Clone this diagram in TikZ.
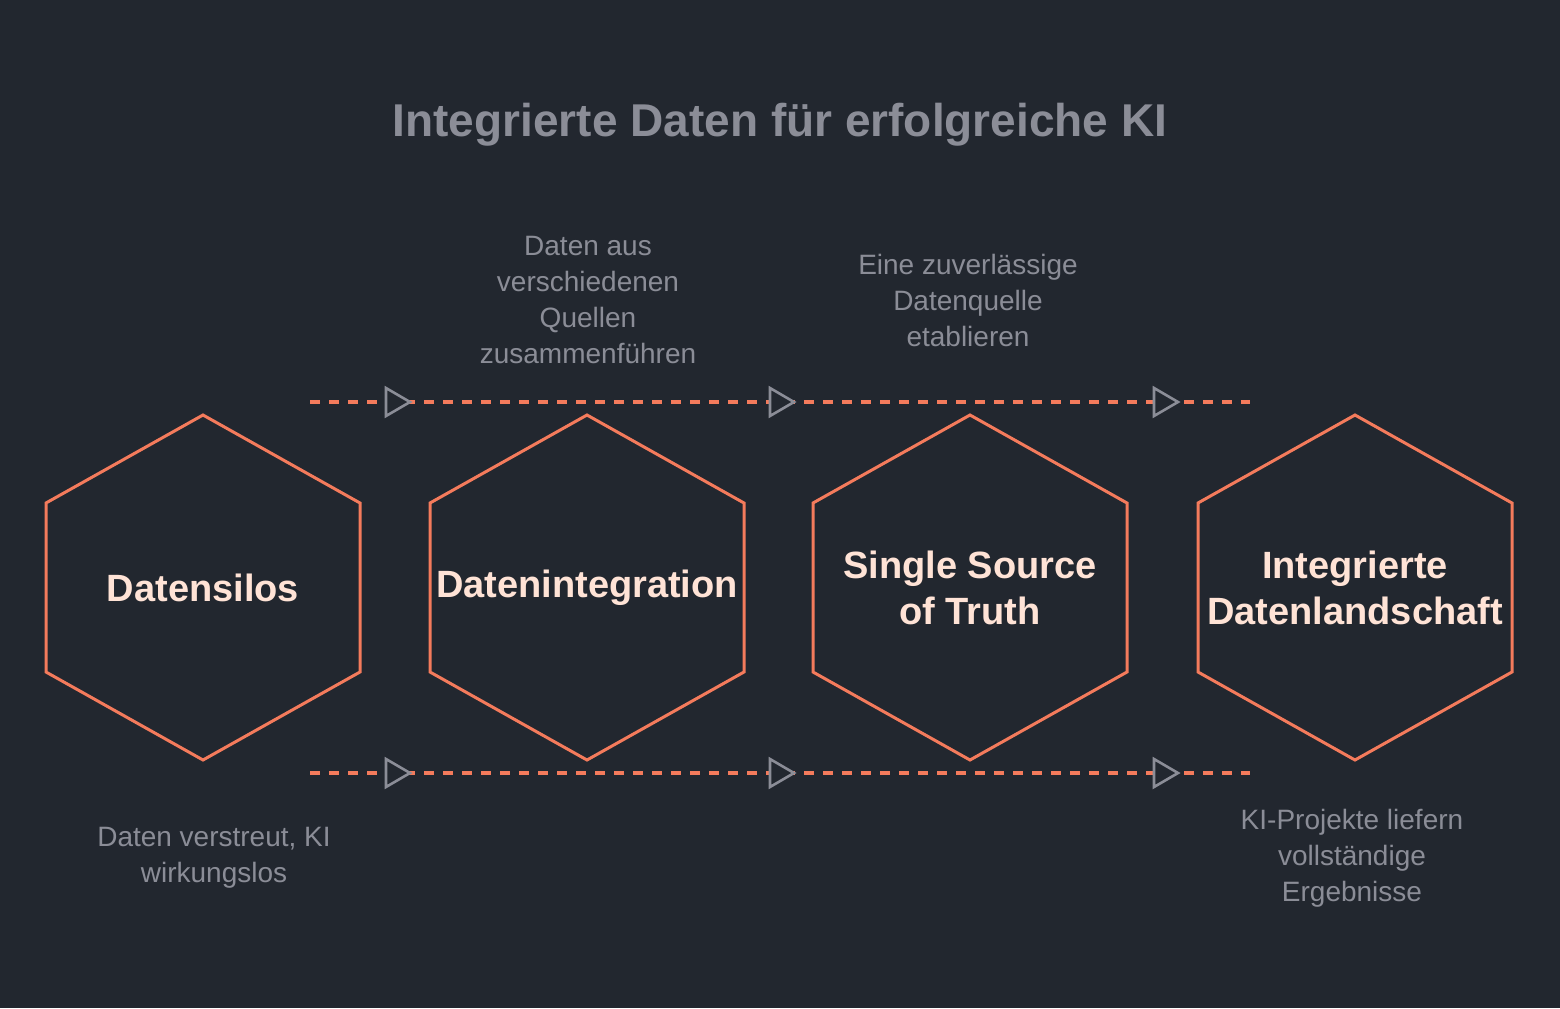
\documentclass[tikz,border=0pt]{standalone}
\usepackage{fontspec}
\setmainfont{Liberation Sans}
\definecolor{bg}{HTML}{22272F}
\definecolor{org}{HTML}{F47B5C}
\definecolor{gr}{HTML}{8B8D97}
\definecolor{lbl}{HTML}{FFE3D6}
\begin{document}
\begin{tikzpicture}[x=0.5pt,y=-0.5pt,
  hexa/.style={draw=org,line width=1.5pt,line join=miter},
  hl/.style={text=lbl,font=\fontsize{19}{23}\selectfont\bfseries,align=center},
  desc/.style={text=gr,font=\fontsize{14}{18}\selectfont,align=center},
  dl/.style={draw=org,line width=1.6pt,dash pattern=on 5pt off 4.5pt},
  tri/.style={draw=gr,line width=1.3pt,line join=miter}]
\fill[bg] (0,0) rectangle (1560,1008);
\useasboundingbox (0,0) rectangle (1560,1008);
\node[text=gr,font=\fontsize{23}{27}\selectfont\bfseries] (title) at (780,125) {Integrierte Daten für erfolgreiche KI};
\foreach \cx/\n in {203/h1,587/h2,970/h3,1355/h4}{
  \draw[hexa] (\cx,415) -- (\cx+157,503) -- (\cx+157,672) -- (\cx,760) -- (\cx-157,672) -- (\cx-157,503) -- cycle;
  \coordinate (\n) at (\cx,588);
}
\node[hl] at (h1) {Datensilos};
\node[hl] at (h2) {Datenintegration};
\node[hl] at (h3) {Single Source\\of Truth};
\node[hl] at (h4) {Integrierte\\Datenlandschaft};
\coordinate (ta) at (310,402); \coordinate (tb) at (1250,402);
\coordinate (ba) at (310,773); \coordinate (bb) at (1250,773);
\draw[dl] (ta) -- (tb);
\draw[dl] (ba) -- (bb);
\foreach \x in {386,770,1154}{
  \foreach \y in {402,773}{
    \draw[tri,fill=bg] (\x,\y-14) -- (\x+24,\y) -- (\x,\y+14) -- cycle;
  }
}
\node[desc] (d2) at (588,300) {Daten aus\\verschiedenen\\Quellen\\zusammenführen};
\node[desc] (d3) at (968,300) {Eine zuverlässige\\Datenquelle\\etablieren};
\node[desc] (d1) at (214,858) {Daten verstreut, KI\\wirkungslos};
\node[desc] (d4) at (1352,858) {KI-Projekte liefern\\vollständige\\Ergebnisse};
\end{tikzpicture}
\end{document}
